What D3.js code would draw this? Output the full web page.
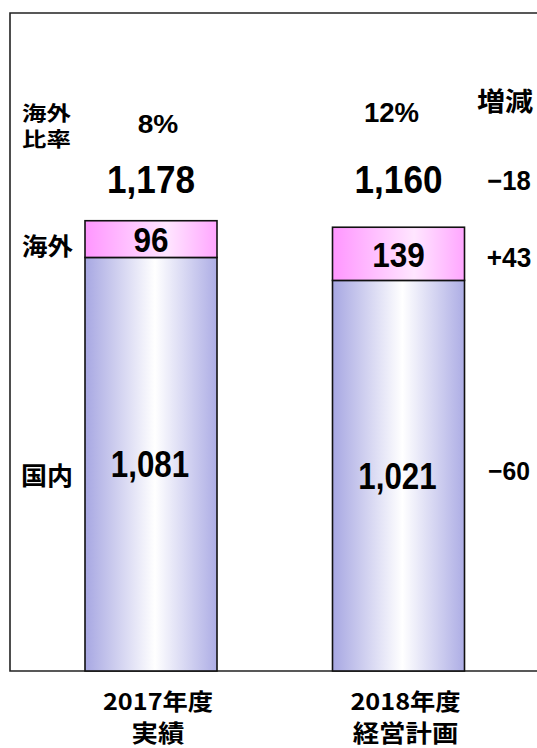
<!DOCTYPE html>
<html>
<head>
<meta charset="utf-8">
<script src="https://cdn.jsdelivr.net/npm/d3@7/dist/d3.min.js"></script>
<style>
  html, body { margin: 0; padding: 0; background: #fff; }
  svg { display: block; }
  .jp { font-family: "Noto Sans CJK JP", sans-serif; font-weight: 700; }
  .num { font-family: "Liberation Sans", Arial, sans-serif; font-weight: 700; }
</style>
</head>
<body>
<svg id="chart" width="537" height="748"></svg>
<script>
// 売上高（国内・海外）の年度比較
const categories = ["2017年度", "2018年度"];
const categorySub = ["実績", "経営計画"];
const domestic = [1081, 1021];      // 国内
const overseas = [96, 139];         // 海外
const totals = [1178, 1160];        // 合計
const overseasRatio = ["8%", "12%"];
const changeTotal = "−18";
const changeOverseas = "+43";
const changeDomestic = "−60";
const yMax = 1720;

const svg = d3.select("#chart");

// plot frame (open on the right)
const frame = { left: 10, top: 13, bottom: 671, right: 560 };

// bar centres
const xBar = d3.scalePoint().domain(categories).range([151, 398.5]);
const barW = 132;

const y = d3.scaleLinear().domain([0, yMax]).range([frame.bottom, frame.top]);

// horizontal gradients for the two segments
const defs = svg.append("defs");
const gDom = defs.append("linearGradient").attr("id", "gDom")
  .attr("x1", 0).attr("x2", 1).attr("y1", 0).attr("y2", 0);
gDom.append("stop").attr("offset", "0%").attr("stop-color", "#a7a7e2");
gDom.append("stop").attr("offset", "53%").attr("stop-color", "#ffffff");
gDom.append("stop").attr("offset", "100%").attr("stop-color", "#adade5");
const gOv = defs.append("linearGradient").attr("id", "gOv")
  .attr("x1", 0).attr("x2", 1).attr("y1", 0).attr("y2", 0);
gOv.append("stop").attr("offset", "0%").attr("stop-color", "#ff96ff");
gOv.append("stop").attr("offset", "62%").attr("stop-color", "#ffe6ff");
gOv.append("stop").attr("offset", "100%").attr("stop-color", "#ffa6ff");

svg.append("path")
  .attr("d", `M${frame.right},${frame.top}H${frame.left}V${frame.bottom}H${frame.right}`)
  .attr("fill", "none").attr("stroke", "#222").attr("stroke-width", 1.6);

// stacked bars
const bars = svg.append("g");
categories.forEach((c, i) => {
  const cx = xBar(c);
  bars.append("rect")
    .attr("x", cx - barW / 2).attr("width", barW)
    .attr("y", y(domestic[i])).attr("height", y(0) - y(domestic[i]))
    .attr("fill", "url(#gDom)").attr("stroke", "#111").attr("stroke-width", 1.6);
  bars.append("rect")
    .attr("x", cx - barW / 2).attr("width", barW)
    .attr("y", y(domestic[i] + overseas[i])).attr("height", y(domestic[i]) - y(domestic[i] + overseas[i]))
    .attr("fill", "url(#gOv)").attr("stroke", "#111").attr("stroke-width", 1.6);
});

const fmt = d3.format(",");

// numeric text with a horizontal squeeze/stretch
function numText(g, tx, ty, txt, size, sx = 0.88, anchor = "middle") {
  return g.append("text").attr("class", "num")
    .attr("transform", `translate(${tx},${ty}) scale(${sx},1)`)
    .attr("text-anchor", anchor)
    .attr("font-size", size)
    .attr("fill", "#000")
    .text(txt);
}

const labels = svg.append("g");
categories.forEach((c, i) => {
  const cx = xBar(c);
  const midDom = (y(0) + y(domestic[i])) / 2;
  const midOv = (y(domestic[i]) + y(domestic[i] + overseas[i])) / 2;
  numText(labels, cx - 1, midDom + 13, fmt(domestic[i]), 36, 0.87);
  numText(labels, cx, midOv + 13, fmt(overseas[i]), 35, 0.9);
  numText(labels, cx, 193, fmt(totals[i]), 39, 0.9);
});

// overseas ratio
numText(labels, xBar(categories[0]) + 7, 133, overseasRatio[0], 26, 1.08);
numText(labels, xBar(categories[1]) - 7, 122, overseasRatio[1], 27, 1.02);

// change column
const chgX = 509;
numText(labels, chgX, 190, changeTotal, 27, 0.95);
numText(labels, chgX, 267, changeOverseas, 27, 0.97);
numText(labels, chgX, 480, changeDomestic, 26, 0.95);

// Japanese labels, slightly widened
function jpText(tx, ty, txt, size, sx = 1, anchor = "start") {
  return svg.append("text").attr("class", "jp")
    .attr("transform", `translate(${tx},${ty}) scale(${sx},1)`)
    .attr("text-anchor", anchor)
    .attr("font-size", size)
    .attr("fill", "#000")
    .text(txt);
}

// two-line header "海外 / 比率"
jpText(22, 121, "海外", 20, 1.22);
jpText(22, 147, "比率", 20, 1.22);

jpText(22, 255, "海外", 24, 1.06);
jpText(21, 485, "国内", 25, 1.04);
jpText(505, 111, "増減", 26, 1.08, "middle");

// category labels
categories.forEach((c, i) => {
  const cx = xBar(c) + 7;
  jpText(cx, 710, c, 23, 1.1, "middle");
  jpText(cx, 742, categorySub[i], 24, 1.1, "middle");
});
</script>
</body>
</html>
